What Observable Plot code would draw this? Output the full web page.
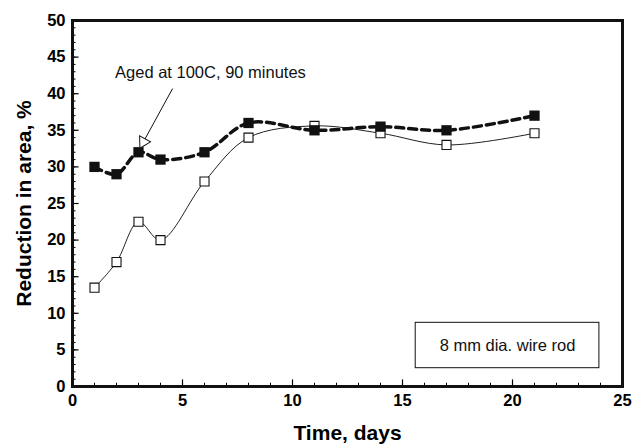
<!DOCTYPE html>
<html>
<head>
<meta charset="utf-8">
<script src="https://cdn.jsdelivr.net/npm/d3@7"></script>
<script src="https://cdn.jsdelivr.net/npm/@observablehq/plot@0.6"></script>
<style>
  html, body { margin: 0; padding: 0; background: #fff; }
  svg { display: block; }
</style>
</head>
<body>
<div id="chart"></div>
<script>
// Data
const days = [1, 2, 3, 4, 6, 8, 11, 14, 17, 21];
const aged = [30, 29, 32, 31, 32, 36, 35, 35.5, 35, 37];
const unaged = [13.5, 17, 22.5, 20, 28, 34, 35.6, 34.6, 33, 34.6];
const xMajor = [0, 5, 10, 15, 20, 25];
const yMajor = [0, 5, 10, 15, 20, 25, 30, 35, 40, 45, 50];
const xMinor = d3.range(0, 26);
const yMinor = d3.range(0, 51);
const noteText = "Aged at 100C, 90 minutes";
const noteAt = [{x: 6.27, y: 42.8}];
const noteArrow = [{x1: 4.55, y1: 40.7, x2: 3.22, y2: 33.4}];
const boxText = "8 mm dia. wire rod";
const boxRange = [{x1: 15.6, x2: 23.95, y1: 2.5, y2: 8.7}];

const agedData = days.map((d, i) => ({x: d, y: aged[i]}));
const unagedData = days.map((d, i) => ({x: d, y: unaged[i]}));

const font = "'Liberation Sans', Arial, Helvetica, sans-serif";

const chart = Plot.plot({
  width: 642,
  height: 446,
  marginLeft: 72,
  marginRight: 20,
  marginTop: 20,
  marginBottom: 60,
  style: {fontFamily: font, background: "#fff", color: "#000"},
  x: {domain: [0, 25]},
  y: {domain: [0, 50]},
  marks: [
    // minor & major inside ticks
    Plot.ruleX(xMinor, {x: d => d, y1: 0, y2: 0.45, stroke: "#000", strokeWidth: 1}),
    Plot.ruleX(xMajor, {x: d => d, y1: 0, y2: 0.9, stroke: "#000", strokeWidth: 1.2}),
    Plot.ruleY(yMinor, {y: d => d, x1: 0, x2: 0.16, stroke: "#000", strokeWidth: 1}),
    Plot.ruleY(yMajor, {y: d => d, x1: 0, x2: 0.3, stroke: "#000", strokeWidth: 1.2}),
    Plot.axisX({ticks: xMajor, tickSize: 0, tickPadding: 8, fontSize: 16.5, fontWeight: "bold", label: null, tickFormat: d => d}),
    Plot.axisY({ticks: yMajor, tickSize: 0, tickPadding: 7, fontSize: 16.5, fontWeight: "bold", label: null, tickFormat: d => d}),
    Plot.text([ "Time, days" ], {frameAnchor: "bottom", lineAnchor: "middle", dy: 47, fontSize: 21, fontWeight: "bold", text: d => d}),
    Plot.text([ "Reduction in area, %" ], {frameAnchor: "left", textAnchor: "middle", lineAnchor: "middle", dx: -48, rotate: -90, fontSize: 21, fontWeight: "bold", text: d => d}),
    // lines
    Plot.line(unagedData, {x: "x", y: "y", curve: "catmull-rom", stroke: "#222", strokeWidth: 1}),
    Plot.line(agedData, {x: "x", y: "y", curve: "catmull-rom", stroke: "#111", strokeWidth: 3.5, strokeDasharray: "8,5"}),
    // markers
    Plot.dot(unagedData, {x: "x", y: "y", symbol: "square", r: 5.1, fill: "#fff", stroke: "#111", strokeWidth: 1.1}),
    Plot.dot(agedData, {x: "x", y: "y", symbol: "square", r: 5.8, fill: "#111", stroke: "none"}),
    // annotation
    Plot.link(noteArrow, {x1: "x1", y1: "y1", x2: "x2", y2: "y2", stroke: "#111", strokeWidth: 1}),
    Plot.dot([noteArrow[0]], {x: "x2", y: "y2", symbol: "triangle", r: 4.6, rotate: 208.5, fill: "#fff", stroke: "#111", strokeWidth: 1}),
    Plot.text(noteAt, {x: "x", y: "y", text: () => noteText, fontSize: 16.5, fill: "#111"}),
    Plot.rect(boxRange, {x1: "x1", x2: "x2", y1: "y1", y2: "y2", fill: "#fff", stroke: "#111", strokeWidth: 1}),
    Plot.text(boxRange, {x: d => (d.x1 + d.x2) / 2, y: d => (d.y1 + d.y2) / 2, text: () => boxText, fontSize: 16.5, fill: "#111"}),
    Plot.frame({stroke: "#111", strokeWidth: 3})
  ]
});
document.getElementById("chart").appendChild(chart);
</script>
</body>
</html>
